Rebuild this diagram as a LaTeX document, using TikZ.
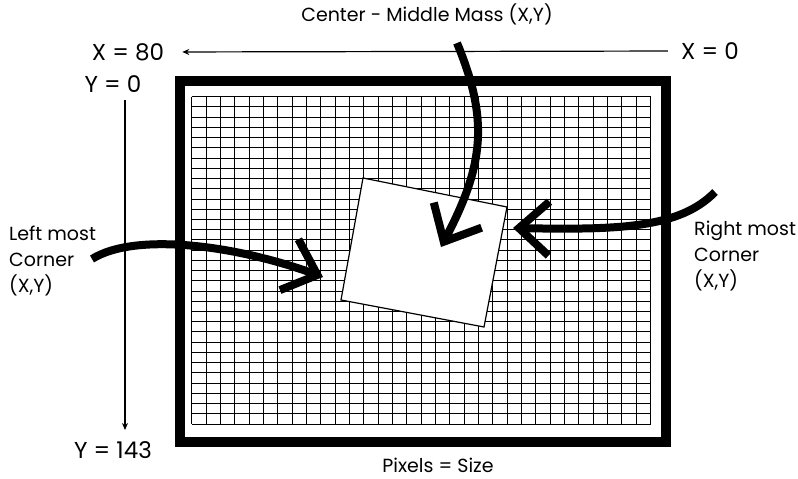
\documentclass[tikz,border=0pt]{standalone}
\usepackage{fontspec}
\setmainfont{Poppins}
\usetikzlibrary{arrows.meta}

\begin{document}
\begin{tikzpicture}[x=1pt,y=-1pt,>=stealth,
  lbl/.style={inner sep=0pt,font=\fontsize{19}{26}\selectfont},
  axlbl/.style={inner sep=0pt,font=\fontsize{23}{26}\selectfont},
  thinaxis/.style={line width=1.2pt,-{Stealth[length=7pt,width=6pt]}},
  gridline/.style={line width=1pt},
  bigarrow/.style={line width=8pt,-{Straight Barb[length=30pt,width=54pt]}}]
\useasboundingbox (0,0) rectangle (798,479);
% frame and pixel grid (32 x 32)
\draw[line width=10pt] (180,81) rectangle (666,442);
\foreach \i in {0,...,32} {
  \draw[gridline] ({191.7+14.34*\i},96.7) -- ({191.7+14.34*\i},424);
  \draw[gridline] (191.7,{96.7+10.23*\i}) -- (650.7,{96.7+10.23*\i});
}
% the rotated object
\coordinate (tl) at (363,178); \coordinate (tr) at (507,207);
\coordinate (br) at (484,327); \coordinate (bl) at (341,300);
\draw[fill=white,line width=1.2pt] (tl) -- (tr) -- (br) -- (bl) -- cycle;
% labels
\node[lbl] (ctrlbl) at (427,14) {Center - Middle Mass (X,Y)};
\node[axlbl] (xmax) at (128,52) {X = 80};
\node[axlbl] (xmin) at (710,51) {X = 0};
\node[axlbl] (ymin) at (113,84) {Y = 0};
\node[axlbl] (ymax) at (113,450) {Y = 143};
\node[lbl] (pix) at (438,465) {Pixels = Size};
\node[lbl,anchor=north west,align=left] (leftlbl) at (9,226) {Left most\\Corner\\(X,Y)};
\node[lbl,anchor=north west,align=left] (rightlbl) at (694,221) {Right most\\Corner\\(X,Y)};
% axes
\draw[thinaxis,shorten <=13pt,shorten >=18pt] (xmin.west) -- (xmax.east);
\coordinate (ytail) at (125,100); \coordinate (yhead) at (125,430);
\draw[thinaxis] (ytail) -- (yhead);
% pointers
\coordinate (ctrfrom) at (457,43); \coordinate (ctrmass) at (441,247);
\coordinate (lfrom) at (92,259); \coordinate (lcorner) at (323,277);
\coordinate (rfrom) at (715,192); \coordinate (rcorner) at (513,228);
\draw[bigarrow] (ctrfrom) .. controls (489,120) and (484,165) .. (ctrmass);
\draw[bigarrow] (lfrom) .. controls (135,232) and (235,245) .. (lcorner);
\draw[bigarrow] (rfrom) .. controls (680,228) and (620,230) .. (rcorner);
\end{tikzpicture}
\end{document}
